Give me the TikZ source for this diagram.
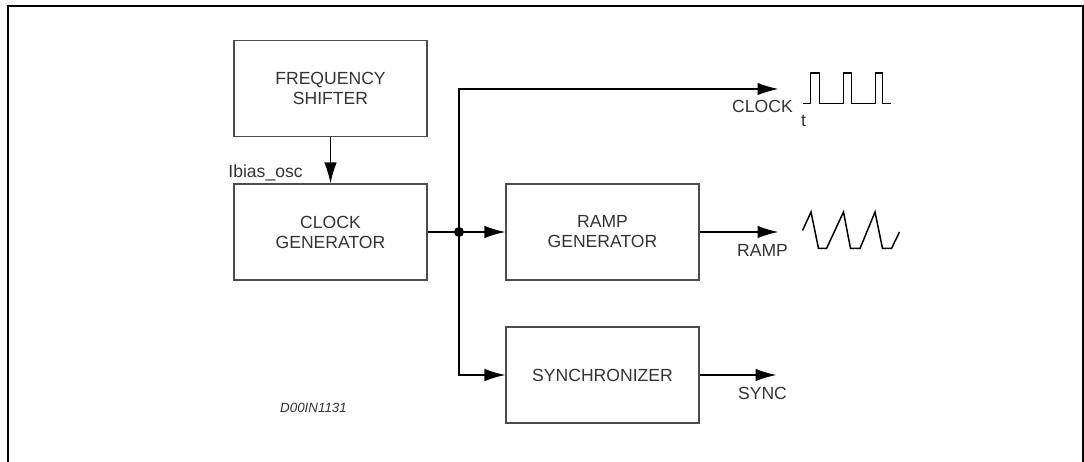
\documentclass[tikz,border=0pt]{standalone}
\usepackage{fontspec}
\setmainfont{Liberation Sans}
\usetikzlibrary{arrows.meta}
\definecolor{boxgray}{gray}{0.3}
\definecolor{txtgray}{gray}{0.2}

\begin{document}
\begin{tikzpicture}[
  block/.style={draw=boxgray, line width=0.6pt, minimum width=3.86cm, minimum height=1.92cm,
    align=center, inner sep=0pt, text=txtgray, font=\fontsize{10}{11.4}\selectfont},
  wire/.style={draw, line width=0.85pt},
  arr/.style={wire, -{Latex[length=0.42cm, width=0.25cm]}},
  lbl/.style={inner sep=0pt, text=txtgray, font=\fontsize{10}{12}\selectfont}]
\useasboundingbox (0,0) rectangle (21.68,9.24);
\draw[line width=1.1pt] (0.16,0) -- (0.16,9.12) -- (21.66,9.12) -- (21.66,0);

\node[block] (fs) at (6.61,7.47) {FREQUENCY\\SHIFTER};
\node[block] (cg) at (6.61,4.60) {CLOCK\\GENERATOR};
\node[block] (rg) at (12.05,4.60) {RAMP\\GENERATOR};
\node[block] (sy) at (12.05,1.74) {SYNCHRONIZER};

\coordinate (j) at (9.18,4.60);
\coordinate (jtop) at (9.18,7.46);
\coordinate (jbot) at (9.18,1.74);
\coordinate (clk) at (15.57,7.46);
\coordinate (rmp) at (15.57,4.60);
\coordinate (syn) at (15.53,1.74);

\path[arr] (fs) -- (cg);
\path[wire] (cg) -- (j);
\path[arr] (j) -- (rg);
\path[arr] (j) -- (jtop) -- (clk);
\path[arr] (j) -- (jbot) -- (sy);
\path[arr] (rg) -- (rmp);
\path[arr] (sy) -- (syn);
\fill (j) circle (0.1);

\node[lbl, anchor=base east] (ibias) at (6.06,5.68) {Ibias\_osc};
\node[lbl, anchor=base] (clklbl) at (15.25,6.98) {CLOCK};
\node[lbl, anchor=base] (tlbl) at (16.07,6.70) {t};
\node[lbl, anchor=base] (rmplbl) at (15.25,4.10) {RAMP};
\node[lbl, anchor=base] (synlbl) at (15.25,1.24) {SYNC};
\node[lbl, anchor=base, font=\fontsize{7.6}{9}\selectfont\itshape] (code) at (6.27,0.98) {D00IN1131};

% clock waveform
\draw[line width=0.85pt] (16.06,7.17) -- (16.21,7.17) -- (16.21,7.78) -- (16.39,7.78) -- (16.39,7.17)
  -- (16.87,7.17) -- (16.87,7.78) -- (17.03,7.78) -- (17.03,7.17)
  -- (17.51,7.17) -- (17.51,7.78) -- (17.65,7.78) -- (17.65,7.17) -- (17.81,7.17);
% ramp waveform
\draw[line width=0.85pt] (16.05,4.63) -- (16.22,5.0) -- (16.37,4.27) -- (16.53,4.27)
  -- (16.87,5.0) -- (17.01,4.27) -- (17.2,4.27) -- (17.5,5.0) -- (17.65,4.27)
  -- (17.83,4.27) -- (17.99,4.60);
\end{tikzpicture}
\end{document}
